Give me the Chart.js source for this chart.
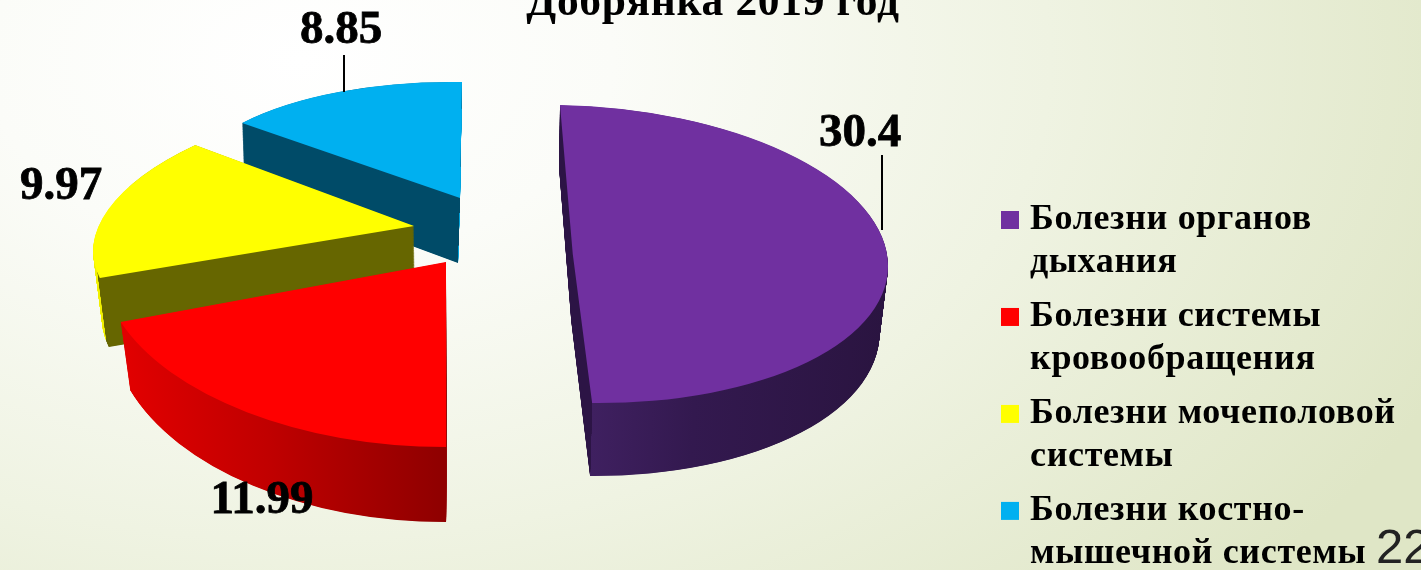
<!DOCTYPE html>
<html lang="ru"><head><meta charset="utf-8">
<style>
html,body{margin:0;padding:0;width:1421px;height:570px;overflow:hidden;
background:radial-gradient(ellipse 1250px 800px at 300px 60px,#ffffff 0%,#fbfcf8 25%,#eff3e2 60%,#dfe6c6 100%);}
canvas{display:block}
</style>
<script src="https://cdn.jsdelivr.net/npm/chart.js@4"></script>
</head><body><canvas id="c" width="1421" height="570"></canvas>
<script>
const categories = [
  ['Болезни органов','дыхания'],
  ['Болезни системы','кровообращения'],
  ['Болезни мочеполовой','системы'],
  ['Болезни костно-','мышечной системы']
];
const values = [30.4, 11.99, 9.97, 8.85];
const colors = ['#7030A0','#FF0000','#FFFF00','#00B0F0'];
const titleText = 'Добрянка 2019 год';
const pageNumber = '22';

// 3D look: affine matrices for the top and bottom face of every exploded slice
const views = [
  {top:[315,6,12.75,149,572.75,254],   bottom:[308,5,12.3,154.5,571.3,321.5],
   wall:[[0,'#2c1445'],[0.022,'#2c1445'],[0.022,'#3f2060'],[0.35,'#33194f'],[1,'#2a1440']], wallFrom:0, wallTo:1},
  {top:[345,5.6,-7.2,185,446,262], bottom:[335,4.8,-7,197,446,325],
   wall:[[0,'#e60000'],[0.5,'#c00000'],[1,'#900000']], wallFrom:-1, wallTo:0},
  {top:[316.8,-3.9,-50.4,136.9,414,226], bottom:[309.4,-2.2,-47.4,141.3,415,295],
   wall:[[0,'#f0f000'],[0.05,'#f0f000'],[0.05,'#666600'],[1,'#666600']], wallFrom:-1, wallTo:0},
  {top:[277.9,4.8,-2,116,460,198], bottom:[272.8,9.9,-2,116,458,263],
   wall:[[0,'#004b68'],[0.99,'#004b68'],[0.99,'#00a0d8'],[1,'#00a0d8']], wallFrom:-1, wallTo:0.01}
];
const labelSpots = [
  {x:860,y:134,line:[882,155,882,230]},
  {x:262,y:501},
  {x:61,y:187},
  {x:341,y:31,line:[344,55,344,92]}
];

const pie3d = {
  id:'pie3d',
  beforeDraw(chart){
    const {ctx}=chart;
    ctx.letterSpacing='0.65px';
    const lg=chart.legend;
    lg.left=997; lg.right=1421; lg.top=191; lg.bottom=800;
  },
  beforeDatasetDraw(chart,args){
    const {ctx}=chart;
    const meta=chart.getDatasetMeta(args.index);
    const base={borderWidth:0,borderColor:'transparent',offset:0,spacing:0,borderRadius:0,circular:true,borderAlign:'center',borderJoinStyle:'round'};
    const order=[3,2,1,0];
    order.forEach(i=>{
      const el=meta.data[i], v=views[i], R=el.outerRadius;
      const put=(m)=>{ctx.transform(m[0]/R,m[1]/R,m[2]/R,m[3]/R,m[4],m[5]);ctx.translate(-el.x,-el.y);};
      const g=ctx.createLinearGradient(el.x+v.wallFrom*R,0,el.x+v.wallTo*R,0);
      v.wall.forEach(s=>g.addColorStop(s[0],s[1]));
      el.options=Object.assign({},base,{backgroundColor:g});
      const N=160;
      for(let k=N;k>0;k--){
        const t=k/N, m=v.top.map((a,j)=>a+(v.bottom[j]-a)*t);
        ctx.save();put(m);el.draw(ctx);ctx.restore();
      }
      el.options=Object.assign({},base,{backgroundColor:colors[i]});
      ctx.save();put(v.top);el.draw(ctx);ctx.restore();
    });
    return false;
  },
  afterDraw(chart){
    const {ctx}=chart;
    ctx.save();
    ctx.letterSpacing='0px';
    ctx.fillStyle='#000';ctx.strokeStyle='#000';ctx.lineWidth=2;
    ctx.textAlign='center';ctx.textBaseline='middle';
    ctx.font='bold 47px "Liberation Serif"';
    values.forEach((val,i)=>{
      const s=labelSpots[i];
      if(s.line){ctx.lineWidth=2;ctx.beginPath();ctx.moveTo(s.line[0],s.line[1]);ctx.lineTo(s.line[2],s.line[3]);ctx.stroke();}
      ctx.fillText(String(val),s.x,s.y);
      ctx.lineWidth=0.8;ctx.strokeText(String(val),s.x,s.y);
    });
    ctx.textAlign='left';
    ctx.font='49px "Liberation Sans"';
    ctx.fillStyle='#222';
    ctx.fillText(pageNumber,1376,549);
    ctx.restore();
  }
};

new Chart(document.getElementById('c').getContext('2d'),{
  type:'pie',
  data:{labels:categories,datasets:[{data:values,backgroundColor:colors,borderWidth:0}]},
  options:{
    responsive:false,animation:false,
    layout:{padding:{left:5}},
    plugins:{
      tooltip:{enabled:false},
      title:{display:true,text:titleText,color:'#000',align:'center',
        font:{family:'"Liberation Serif"',size:43.5,weight:'bold',lineHeight:1.15},
        padding:{top:-21.5,bottom:0}},
      legend:{position:'right',align:'start',
        labels:{
          color:'#000',boxWidth:4,boxHeight:4,padding:11,
          font:{family:'"Liberation Serif"',size:36,weight:'bold',lineHeight:1.194},
          generateLabels(chart){
            return categories.map((t,i)=>({text:t,fillStyle:colors[i],strokeStyle:colors[i],lineWidth:14,lineJoin:'miter',hidden:false,index:i}));
          }
        }}
    }
  },
  plugins:[pie3d]
});
</script></body></html>
